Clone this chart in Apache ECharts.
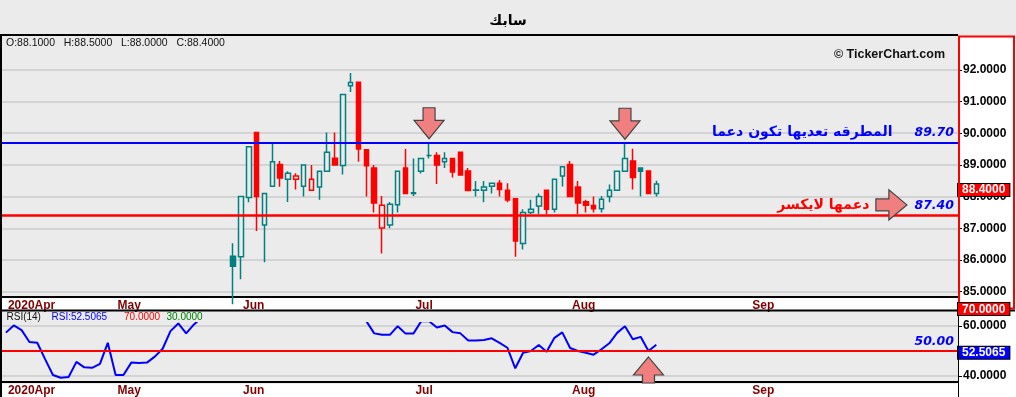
<!DOCTYPE html>
<html>
<head>
<meta charset="utf-8">
<title>سابك</title>
<script src="https://cdn.jsdelivr.net/npm/echarts@6/dist/echarts.min.js"></script>
<style>
    html, body { margin: 0; padding: 0; background: #ebebeb; }
    #main { width: 1016px; height: 397px; }
</style>
</head>
<body>
<div id="main"></div>
<script>
// months on the time axis and how many trading slots each one takes
var monthNames = ["2020Apr", "May", "Jun", "Jul", "Aug", "Sep"];
var monthSlots = [14, 16, 22, 20, 23, 27];

// candles start at slot 29 (end of May); earlier ones are below the visible range
var firstCandle = 29;
var opens = [86.12, 86.10, 87.97, 90.02, 87.10, 88.33, 89.01, 88.55, 88.55, 88.33,
             88.20, 88.30, 88.80, 89.21, 88.98, 91.50, 91.61, 89.48, 88.90, 87.01,
             87.10, 87.74, 88.90, 88.10, 88.80, 89.30, 89.30, 89.10, 89.20, 89.40,
             88.81, 88.20, 88.20, 88.33, 88.42, 88.20, 87.93, 86.52, 87.50, 87.70,
             88.20, 87.60, 88.65, 89.01, 88.30, 87.84, 87.72, 87.62, 88.00, 88.20,
             88.80, 89.12, 88.90, 88.81, 88.10];
var closes = [85.80, 88.00, 89.57, 88.00, 88.10, 89.10, 88.59, 88.74, 88.65, 89.00,
              88.55, 88.80, 89.40, 89.00, 91.22, 91.60, 89.50, 88.97, 87.80, 87.73,
              87.76, 88.80, 88.10, 88.12, 89.20, 89.30, 89.00, 89.20, 88.78, 88.68,
              88.19, 88.21, 88.30, 88.42, 88.22, 87.89, 86.60, 87.50, 87.60, 88.00,
              87.60, 88.55, 88.94, 88.00, 87.80, 87.73, 87.62, 87.92, 88.20, 88.80,
              89.20, 88.60, 88.80, 88.10, 88.40];
var lows = [84.60, 85.39, 87.82, 86.91, 85.93, 88.33, 88.31, 87.83, 88.22, 88.00,
            88.20, 87.90, 88.80, 89.00, 88.70, 91.30, 89.10, 88.00, 87.50, 86.20,
            87.00, 87.50, 88.10, 88.02, 88.73, 89.20, 88.40, 88.90, 88.60, 88.68,
            88.19, 88.00, 87.82, 88.10, 88.00, 87.82, 86.10, 86.33, 87.45, 87.45,
            87.45, 87.50, 88.32, 88.00, 87.45, 87.50, 87.50, 87.50, 87.82, 88.20,
            88.80, 88.22, 88.00, 88.10, 88.00];
var highs = [86.53, 88.00, 89.57, 90.02, 88.10, 89.67, 89.12, 88.80, 88.74, 89.00,
             89.00, 88.80, 90.02, 90.02, 91.22, 91.90, 91.61, 89.48, 89.00, 88.02,
             87.83, 88.80, 89.50, 89.20, 89.20, 89.67, 89.40, 89.40, 89.20, 89.40,
             88.90, 88.49, 88.49, 88.42, 88.52, 88.42, 87.93, 87.60, 87.90, 88.10,
             88.20, 88.55, 88.94, 89.12, 88.49, 87.90, 88.00, 88.02, 88.38, 88.80,
             89.72, 89.51, 88.90, 88.81, 88.50];
// close of the hidden candle just before the first visible one (estimate)
var closeBefore = 84.70;

// RSI(14) from the first slot; values above the panel are estimates
var rsi = [57.4, 60.3, 58.4, 53.6, 53.3, 46.7, 40.3, 39.2, 39.5, 45.6,
           43.4, 43.2, 44.8, 53.3, 40.3, 40.3, 45.3, 45.1, 45.3, 47.7,
           50.9, 58.0, 61.1, 57.1, 60.7, 63.5, 65.0, 64.0, 63.0, 62.5,
           70.0, 74.0, 68.0, 69.0, 72.0, 67.0, 68.0, 67.5, 68.0, 71.0,
           66.0, 67.0, 70.0, 77.0, 78.0, 67.0, 62.0, 57.1, 56.5, 56.5,
           60.0, 57.0, 57.0, 62.0, 62.0, 59.5, 60.3, 57.6, 57.1, 54.2,
           54.2, 54.4, 55.1, 53.3, 51.3, 43.0, 49.3, 50.0, 52.4, 49.7,
           55.3, 57.5, 51.2, 50.0, 49.3, 48.5, 50.7, 53.1, 57.3, 60.0,
           54.7, 55.7, 50.0, 52.5065];
var rsiLevels = [70, 30];

// tick labels and drawn levels
var priceTicks = [85, 86, 87, 88, 89, 90, 91, 92];
var rsiTicks = [40, 60];
var resistance = 89.70;
var support = 87.40;
var rsiMid = 50;

(function() {
    var myChart = echarts.init(document.getElementById("main"));

    var TEAL = "#008080";
    var RED = "#ff0000";
    var BLUE = "#0000ff";
    var BG = "#ebebeb";
    var AR = "DejaVu Sans";
    var LAT = "Liberation Sans";

    // slot names: first slot of a month carries the label
    var days = [];
    monthNames.forEach(function(m, k) {
        for (var i = 0; i < monthSlots[k]; i++) {
            days.push(i === 0 ? m : m + "-" + i);
        }
    });
    function isMonthStart(index, value) {
        return String(value).indexOf("-") < 0;
    }

    // hollow candles: fill when close < open, colour by close vs previous close
    var candleData = days.map(function(d, i) {
        var k = i - firstCandle;
        if (k < 0 || k >= opens.length) return "-";
        var prev = k === 0 ? closeBefore : closes[k - 1];
        var col = closes[k] >= prev ? TEAL : RED;
        var fill = closes[k] >= opens[k] ? BG : col;
        return {
            value: [opens[k], closes[k], lows[k], highs[k]],
            itemStyle: { color: fill, color0: fill, borderColor: col, borderColor0: col }
        };
    });

    var last = opens.length - 1;
    var lastSlot = firstCandle + last;
    var lastRsi = rsi[rsi.length - 1];

    var downArrow = "path://M9,0 L21,0 L21,12.6 L30,12.6 L15,31 L0,12.6 L9,12.6 Z";
    var rightArrow = "path://M0,9 L13,9 L13,0 L31,15 L13,30 L13,21 L0,21 Z";
    var upArrow = "path://M15,0 L30,18 L21,18 L21,26 L9,26 L9,18 L0,18 Z";
    var arrowStyle = { color: "#f08080", borderColor: "#444", borderWidth: 1.2 };

    function timeAxis(gi) {
        return {
            type: "category",
            gridIndex: gi,
            data: days,
            boundaryGap: true,
            axisLine: { lineStyle: { color: "#000", width: 2 } },
            axisTick: {
                inside: true,
                length: 4,
                alignWithLabel: true,
                interval: isMonthStart,
                lineStyle: { color: "#999", width: 1 }
            },
            axisLabel: {
                interval: isMonthStart,
                align: "left",
                margin: 3,
                padding: [0, 0, 0, 2],
                color: "#800000",
                fontFamily: LAT,
                fontWeight: "bold",
                fontSize: 12
            },
            splitLine: { show: false }
        };
    }

    function valueAxis(gi, min, max, ticks) {
        return {
            type: "value",
            gridIndex: gi,
            position: "right",
            min: min,
            max: max,
            axisLine: { show: false },
            axisTick: { show: true, length: 4, customValues: ticks, lineStyle: { color: "#000" } },
            axisLabel: {
                customValues: ticks,
                margin: 5,
                color: "#000",
                fontFamily: LAT,
                fontWeight: "bold",
                fontSize: 12,
                formatter: function(v) { return v.toFixed(4); }
            },
            splitLine: { lineStyle: { color: "#d3d3d3", width: 2 } }
        };
    }

    // value tag on the axis side, its top at the value
    function sideBox(bg, dy) {
        return {
            position: "end",
            distance: 0,
            offset: [0, dy],
            color: "#fff",
            fontFamily: LAT,
            fontWeight: "bold",
            fontSize: 12,
            lineHeight: 11,
            padding: [1, 4, 0, 4],
            backgroundColor: bg,
            borderColor: "#000",
            borderWidth: 1,
            formatter: function(p) { return Number(p.value).toFixed(4); }
        };
    }

    var numStyle = { fontFamily: AR, fontWeight: "bold", fontStyle: "italic", fontSize: 12.5, color: BLUE };
    var noLine = { color: "rgba(0,0,0,0)", width: 1 };

    var option = {
        backgroundColor: BG,
        animation: false,
        title: {
            text: "سابك",
            left: "center",
            top: 9,
            textStyle: { fontFamily: AR, fontSize: 14, fontWeight: "bold", color: "#000" }
        },
        grid: [
            { left: 2, right: 58, top: 36, height: 261 },
            { left: 2, right: 58, top: 323, height: 60 }
        ],
        xAxis: [timeAxis(0), timeAxis(1)],
        yAxis: [
            valueAxis(0, 84.83, 93.07, priceTicks),
            valueAxis(1, 37.48, 61.28, rsiTicks)
        ],
        series: [
            {
                name: "سابك",
                type: "candlestick",
                xAxisIndex: 0,
                yAxisIndex: 0,
                barWidth: 5,
                itemStyle: { borderWidth: 1.5 },
                data: candleData,
                markLine: {
                    silent: true,
                    precision: 4,
                    symbol: ["none", "none"],
                    data: [
                        {
                            yAxis: resistance,
                            lineStyle: { color: BLUE, width: 2, type: "solid" },
                            label: {
                                position: "insideEndTop",
                                distance: [4, 3],
                                formatter: "{ar|المطرقه تعديها تكون دعما}{gap| }{num|" + resistance.toFixed(2) + "}",
                                rich: {
                                    ar: { fontFamily: AR, fontWeight: "bold", fontSize: 14, color: BLUE },
                                    gap: { width: 22 },
                                    num: numStyle
                                }
                            }
                        },
                        {
                            yAxis: support,
                            lineStyle: { color: RED, width: 2.5, type: "solid" },
                            label: {
                                position: "insideEndTop",
                                distance: [4, 3],
                                formatter: "{ar|دعمها لايكسر}{gap| }{num|" + support.toFixed(2) + "}",
                                rich: {
                                    ar: { fontFamily: AR, fontWeight: "bold", fontSize: 14, color: RED },
                                    gap: { width: 45 },
                                    num: numStyle
                                }
                            }
                        },
                        {
                            yAxis: closes[last],
                            lineStyle: noLine,
                            label: sideBox(RED, 6)
                        }
                    ]
                },
                markPoint: {
                    silent: true,
                    label: { show: false },
                    itemStyle: arrowStyle,
                    data: [
                        { coord: [firstCandle + 25, resistance], symbol: downArrow, symbolSize: [30, 31], symbolOffset: [0, -19.5] },
                        { coord: [firstCandle + 50, resistance], symbol: downArrow, symbolSize: [30, 31], symbolOffset: [0, -19] },
                        { coord: [113, support], symbol: rightArrow, symbolSize: [31, 30], symbolOffset: [0, -10.7] }
                    ]
                }
            },
            {
                name: "RSI(14)",
                type: "line",
                xAxisIndex: 1,
                yAxisIndex: 1,
                data: rsi,
                symbol: "none",
                lineStyle: { color: BLUE, width: 2 },
                markLine: {
                    silent: true,
                    precision: 4,
                    symbol: ["none", "none"],
                    data: [
                        {
                            yAxis: rsiMid,
                            lineStyle: { color: RED, width: 2, type: "solid" },
                            label: Object.assign({ position: "insideEndTop", distance: [4, 3], formatter: rsiMid.toFixed(2) }, numStyle)
                        },
                        {
                            yAxis: lastRsi,
                            lineStyle: noLine,
                            label: sideBox(BLUE, 8)
                        }
                    ]
                },
                markPoint: {
                    silent: true,
                    label: { show: false },
                    itemStyle: arrowStyle,
                    data: [
                        { coord: [lastSlot - 1, rsiMid], symbol: upArrow, symbolSize: [30, 26], symbolOffset: [0, 19] }
                    ]
                }
            }
        ],
        graphic: [
            // white strips and axis areas
            { type: "rect", z: -10, shape: { x: 0, y: 298, width: 958, height: 12 }, style: { fill: "#fff" } },
            { type: "rect", z: -10, shape: { x: 0, y: 384, width: 958, height: 13 }, style: { fill: "#fff" } },
            { type: "rect", z: -10, shape: { x: 958, y: 36, width: 58, height: 361 }, style: { fill: "#fff" } },
            // panel borders
            { type: "line", z: 50, shape: { x1: 0, y1: 35, x2: 958, y2: 35 }, style: { stroke: "#000", lineWidth: 2 } },
            { type: "line", z: 50, shape: { x1: 1, y1: 35, x2: 1, y2: 397 }, style: { stroke: "#000", lineWidth: 2 } },
            { type: "line", z: 50, shape: { x1: 0, y1: 310.5, x2: 1015, y2: 310.5 }, style: { stroke: "#000", lineWidth: 2 } },
            { type: "line", z: 50, shape: { x1: 958.5, y1: 311, x2: 958.5, y2: 397 }, style: { stroke: "#000", lineWidth: 1 } },
            { type: "rect", z: 50, shape: { x: 959, y: 36.5, width: 55, height: 272 }, style: { fill: "none", stroke: RED, lineWidth: 2 } },
            // header texts
            {
                type: "text", z: 60, x: 6, y: 43,
                style: {
                    text: "O:" + opens[last].toFixed(4) + "   H:" + highs[last].toFixed(4) +
                          "   L:" + lows[last].toFixed(4) + "   C:" + closes[last].toFixed(4),
                    font: "10.5px " + LAT, fill: "#111", verticalAlign: "middle"
                }
            },
            {
                type: "text", z: 60, x: 945, y: 55,
                style: { text: "© TickerChart.com", font: "bold 12.5px " + LAT, fill: "#111", align: "right", verticalAlign: "middle" }
            },
            { type: "text", z: 60, x: 6.5, y: 317.5, style: { text: "RSI(14)", font: "10px " + LAT, fill: "#111", verticalAlign: "middle" } },
            { type: "text", z: 60, x: 51.5, y: 317.5, style: { text: "RSI:" + lastRsi.toFixed(4), font: "10px " + LAT, fill: BLUE, verticalAlign: "middle" } },
            { type: "text", z: 60, x: 124, y: 317.5, style: { text: rsiLevels[0].toFixed(4), font: "10px " + LAT, fill: RED, verticalAlign: "middle" } },
            { type: "text", z: 60, x: 166.5, y: 317.5, style: { text: rsiLevels[1].toFixed(4), font: "10px " + LAT, fill: "#008000", verticalAlign: "middle" } },
            // overbought level sits above the panel, its tag is pinned to the top
            {
                type: "text", z: 60, x: 958, y: 303,
                style: {
                    text: rsiLevels[0].toFixed(4), font: "bold 12px " + LAT, fill: "#fff",
                    backgroundColor: RED, borderColor: "#000", borderWidth: 1,
                    padding: [1, 4, 0, 4], lineHeight: 11
                }
            }
        ]
    };

    myChart.setOption(option);
    window.addEventListener("resize", function() {
        myChart.resize();
    });
})();
</script>
</body>
</html>
